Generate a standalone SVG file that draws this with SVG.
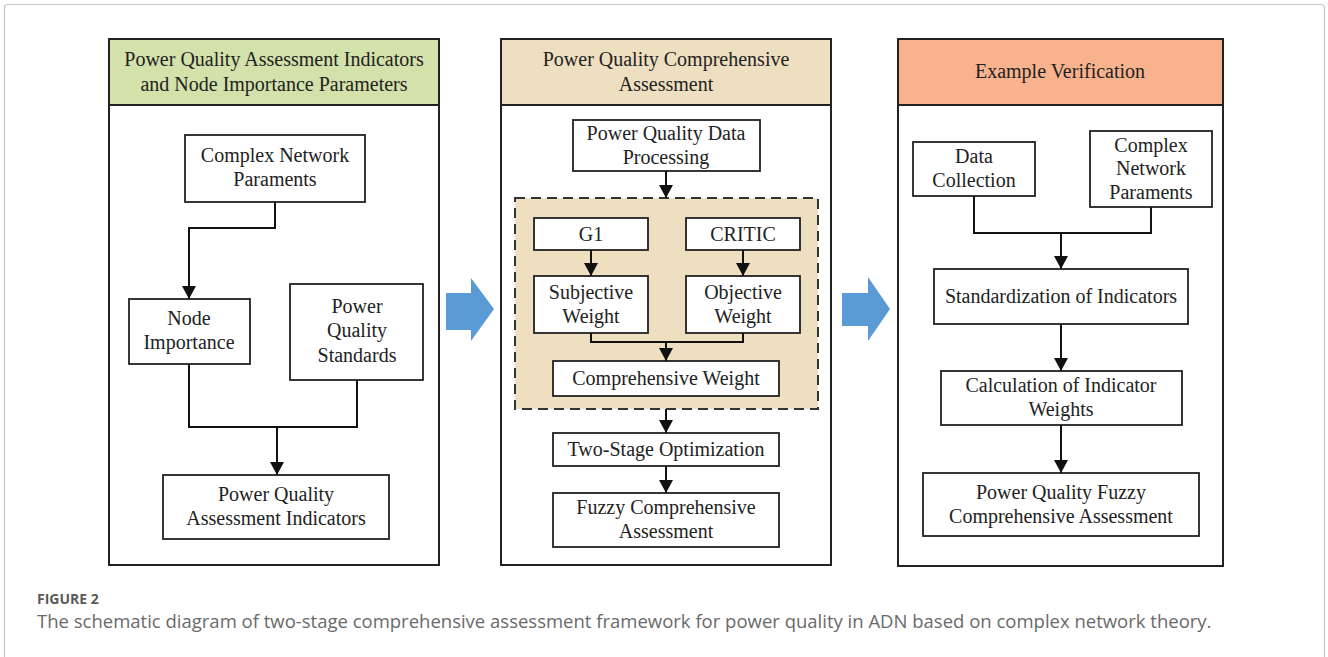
<svg xmlns="http://www.w3.org/2000/svg" width="1328" height="657" viewBox="0 0 1328 657">
<style>
.panel{fill:#fff;stroke:#222;stroke-width:2}
.hdr{stroke:#222;stroke-width:2}
.node{fill:#fff;stroke:#222;stroke-width:1.8}
.t{font-family:"Liberation Serif","Times New Roman",serif;font-size:20px;fill:#222;text-anchor:middle}
.conn{fill:none;stroke:#111;stroke-width:2}
.big{fill:#5b9bd5}
</style>
<defs>
<marker id="ah" markerUnits="userSpaceOnUse" markerWidth="14" markerHeight="14" refX="13" refY="7" orient="auto">
<path d="M0,0 L13,7 L0,14 z" fill="#111"/>
</marker>
</defs>
<rect x="0" y="0" width="1328" height="657" fill="#fff"/>
<rect x="4.5" y="4.5" width="1320" height="700" rx="3" fill="#fff" stroke="#c8c8c8" stroke-width="1.2"/>

<g id="panel1">
<rect class="panel" x="109" y="39" width="330" height="526"/>
<rect class="hdr" x="109" y="39" width="330" height="66" fill="#d3e1aa"/>
<text class="t" x="274" y="66">Power Quality Assessment Indicators</text>
<text class="t" x="274" y="91">and Node Importance Parameters</text>
</g>
<g id="panel2">
<rect class="panel" x="501" y="39" width="330" height="526"/>
<rect class="hdr" x="501" y="39" width="330" height="66" fill="#eddfc0"/>
<text class="t" x="666" y="66">Power Quality Comprehensive</text>
<text class="t" x="666" y="91">Assessment</text>
</g>
<g id="panel3">
<rect class="panel" x="898" y="39" width="325" height="527"/>
<rect class="hdr" x="898" y="39" width="325" height="66" fill="#f9b28e"/>
<text class="t" x="1060" y="78">Example Verification</text>
</g>

<g id="dashed-group">
<rect x="515" y="198" width="303" height="211" fill="#eddfc0" stroke="#333" stroke-width="2" stroke-dasharray="10,6"/>
</g>

<g id="n-cnp1"><rect class="node" x="185" y="135" width="180" height="67"/>
<text class="t" x="275" y="162">Complex Network</text><text class="t" x="275" y="186">Paraments</text></g>
<g id="n-ni"><rect class="node" x="129" y="299" width="121" height="65"/>
<text class="t" x="189" y="325">Node</text><text class="t" x="189" y="349">Importance</text></g>
<g id="n-pqs"><rect class="node" x="290" y="284" width="133" height="96"/>
<text class="t" x="357" y="313">Power</text><text class="t" x="357" y="337">Quality</text><text class="t" x="357" y="362">Standards</text></g>
<g id="n-pqai"><rect class="node" x="163" y="475" width="226" height="64"/>
<text class="t" x="276" y="501">Power Quality</text><text class="t" x="276" y="525">Assessment Indicators</text></g>

<g id="n-pqdp"><rect class="node" x="573" y="120" width="187" height="51"/>
<text class="t" x="666" y="140">Power Quality Data</text><text class="t" x="666" y="164">Processing</text></g>
<g id="n-g1"><rect class="node" x="534" y="218" width="114" height="32"/>
<text class="t" x="591" y="241">G1</text></g>
<g id="n-critic"><rect class="node" x="686" y="218" width="114" height="32"/>
<text class="t" x="743" y="241">CRITIC</text></g>
<g id="n-sw"><rect class="node" x="534" y="276" width="114" height="57"/>
<text class="t" x="591" y="299">Subjective</text><text class="t" x="591" y="323">Weight</text></g>
<g id="n-ow"><rect class="node" x="686" y="276" width="114" height="57"/>
<text class="t" x="743" y="299">Objective</text><text class="t" x="743" y="323">Weight</text></g>
<g id="n-cw"><rect class="node" x="553" y="361" width="226" height="35"/>
<text class="t" x="666" y="385">Comprehensive Weight</text></g>
<g id="n-tso"><rect class="node" x="553" y="433" width="226" height="33"/>
<text class="t" x="666" y="456">Two-Stage Optimization</text></g>
<g id="n-fca"><rect class="node" x="553" y="493" width="226" height="54"/>
<text class="t" x="666" y="514">Fuzzy Comprehensive</text><text class="t" x="666" y="538">Assessment</text></g>

<g id="n-dc"><rect class="node" x="913" y="142" width="122" height="54"/>
<text class="t" x="974" y="163">Data</text><text class="t" x="974" y="187">Collection</text></g>
<g id="n-cnp3"><rect class="node" x="1090" y="131" width="122" height="76"/>
<text class="t" x="1151" y="152">Complex</text><text class="t" x="1151" y="175">Network</text><text class="t" x="1151" y="199">Paraments</text></g>
<g id="n-std"><rect class="node" x="934" y="269" width="254" height="55"/>
<text class="t" x="1061" y="303">Standardization of Indicators</text></g>
<g id="n-calc"><rect class="node" x="941" y="371" width="241" height="54"/>
<text class="t" x="1061" y="392">Calculation of Indicator</text><text class="t" x="1061" y="416">Weights</text></g>
<g id="n-pqfca"><rect class="node" x="923" y="473" width="276" height="63"/>
<text class="t" x="1061" y="499">Power Quality Fuzzy</text><text class="t" x="1061" y="523">Comprehensive Assessment</text></g>

<g id="connectors">
<path class="conn" d="M275,202 V228 H189 V299" marker-end="url(#ah)"/>
<path class="conn" d="M189,364 V427 H357 V380"/>
<path class="conn" d="M277,427 V475" marker-end="url(#ah)"/>
<path class="conn" d="M666,171 V198" marker-end="url(#ah)"/>
<path class="conn" d="M591,250 V276" marker-end="url(#ah)"/>
<path class="conn" d="M743,250 V276" marker-end="url(#ah)"/>
<path class="conn" d="M591,333 V342 H743 V333"/>
<path class="conn" d="M666,342 V361" marker-end="url(#ah)"/>
<path class="conn" d="M666,409 V433" marker-end="url(#ah)"/>
<path class="conn" d="M666,466 V493" marker-end="url(#ah)"/>
<path class="conn" d="M974,196 V233 H1151 V207"/>
<path class="conn" d="M1061,233 V269" marker-end="url(#ah)"/>
<path class="conn" d="M1061,324 V371" marker-end="url(#ah)"/>
<path class="conn" d="M1061,425 V473" marker-end="url(#ah)"/>
<path class="big" d="M446,293 H471 V278 L494,309 L471,341 V330 H446 z"/>
<path class="big" d="M842,293 H868 V277 L890,309 L868,341 V326 H842 z"/>
</g>

<g id="caption">
<text x="37" y="604" font-family="'Open Sans','Noto Sans',sans-serif" font-size="14" font-weight="bold" fill="#5a5a5a">FIGURE 2</text>
<text x="37" y="628" font-family="'Open Sans','Noto Sans',sans-serif" font-size="18.5" fill="#6a6a6a">The schematic diagram of two-stage comprehensive assessment framework for power quality in ADN based on complex network theory.</text>
</g>
</svg>
